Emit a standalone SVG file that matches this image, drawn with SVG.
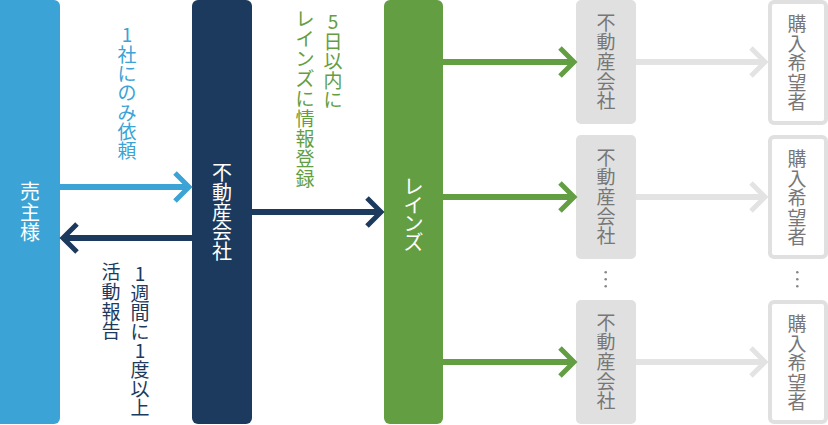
<svg xmlns="http://www.w3.org/2000/svg" width="828" height="425" viewBox="0 0 828 425">
<style>
text{font-family:"Noto Sans CJK JP","Noto Sans",sans-serif;text-anchor:middle}
.w{fill:#fff;font-size:20px}
.lb{fill:#3ba3d5;font-size:19px}
.ln{fill:#1c3a5e;font-size:19px}
.lg{fill:#639e43;font-size:19px}
.gt{fill:#777;font-size:19px}
.ch{fill:none;stroke-width:5;stroke-linejoin:miter;stroke-linecap:butt}
.ln6{stroke-width:6}
.dot{fill:#888}
</style>
<rect width="828" height="425" fill="#fff"/>
<g id="seller">
<rect x="-8" y="0" width="68" height="424" rx="6" fill="#3ba3d5"/>
<text class="w" x="30 30 30" y="199 219.5 240">売主様</text>
</g>
<g id="realtor">
<rect x="192" y="0" width="60" height="424" rx="6" fill="#1c3a5e"/>
<text class="w" x="222 222 222 222 222" y="180 199.8 219.6 239.4 259.2">不動産会社</text>
</g>
<g id="reins">
<rect x="384" y="0" width="59" height="424" rx="6" fill="#639e43"/>
<text class="w" x="413.5 413.5 413.5 413.5" y="194 212.5 231 249.5">レインズ</text>
</g>
<g id="agent1">
<rect x="576" y="0" width="60" height="124" rx="5" fill="#e0e0e0"/>
<text class="gt" x="606 606 606 606 606" y="29.5 49.2 68.9 88.6 108.3">不動産会社</text>
</g>
<g id="agent2">
<rect x="576" y="135" width="60" height="124" rx="5" fill="#e0e0e0"/>
<text class="gt" x="606 606 606 606 606" y="164.5 184.2 203.9 223.6 243.3">不動産会社</text>
</g>
<g id="agent3">
<rect x="576" y="300" width="60" height="124" rx="5" fill="#e0e0e0"/>
<text class="gt" x="606 606 606 606 606" y="329.5 349.2 368.9 388.6 408.3">不動産会社</text>
</g>
<g id="buyer1">
<rect x="770" y="2" width="56" height="121" rx="4" fill="#fff" stroke="#e0e0e0" stroke-width="4"/>
<text class="gt" x="797 797 797 797 797" y="31 50.5 70 89.5 109">購入希望者</text>
</g>
<g id="buyer2">
<rect x="770" y="137" width="56" height="120" rx="4" fill="#fff" stroke="#e0e0e0" stroke-width="4"/>
<text class="gt" x="797 797 797 797 797" y="166 185.5 205 224.5 244">購入希望者</text>
</g>
<g id="buyer3">
<rect x="770" y="302" width="56" height="120" rx="4" fill="#fff" stroke="#e0e0e0" stroke-width="4"/>
<text class="gt" x="797 797 797 797 797" y="331 350.5 370 389.5 409">購入希望者</text>
</g>
<g id="dots">
<circle class="dot" cx="605.7" cy="272.3" r="1.3"/>
<circle class="dot" cx="605.7" cy="279.3" r="1.3"/>
<circle class="dot" cx="605.7" cy="286.3" r="1.3"/>
<circle class="dot" cx="797.3" cy="272.3" r="1.3"/>
<circle class="dot" cx="797.3" cy="279.3" r="1.3"/>
<circle class="dot" cx="797.3" cy="286.3" r="1.3"/>
</g>
<g id="connectors">
<line x1="60" y1="187" x2="187" y2="187" stroke="#3ba3d5" stroke-width="6"/>
<polyline class="ch" stroke="#3ba3d5" points="175,173 189,187 175,201"/>
<line x1="192" y1="238" x2="65" y2="238" stroke="#1c3a5e" stroke-width="6"/>
<polyline class="ch" stroke="#1c3a5e" points="77,224 63,238 77,252"/>
<line x1="252" y1="212" x2="379" y2="212" stroke="#1c3a5e" stroke-width="6"/>
<polyline class="ch" stroke="#1c3a5e" points="367,198 381,212 367,226"/>
<line x1="443" y1="62" x2="572" y2="62" stroke="#639e43" stroke-width="6"/>
<polyline class="ch" stroke="#639e43" points="560,48 574,62 560,76"/>
<line x1="443" y1="197" x2="572" y2="197" stroke="#639e43" stroke-width="6"/>
<polyline class="ch" stroke="#639e43" points="560,183 574,197 560,211"/>
<line x1="443" y1="362" x2="572" y2="362" stroke="#639e43" stroke-width="6"/>
<polyline class="ch" stroke="#639e43" points="560,348 574,362 560,376"/>
<line x1="636" y1="62" x2="762" y2="62" stroke="#e3e3e3" stroke-width="6"/>
<polyline class="ch" stroke="#e3e3e3" points="751,48 765,62 751,76"/>
<line x1="636" y1="197" x2="762" y2="197" stroke="#e3e3e3" stroke-width="6"/>
<polyline class="ch" stroke="#e3e3e3" points="751,183 765,197 751,211"/>
<line x1="636" y1="362" x2="762" y2="362" stroke="#e3e3e3" stroke-width="6"/>
<polyline class="ch" stroke="#e3e3e3" points="751,348 765,362 751,376"/>
</g>
<g id="labels">
<text class="lb" x="127 127 127 127 127 127 127" y="42 62 81.2 100.4 119.6 138.8 158">1社にのみ依頼</text>
<text class="ln" x="140 140 140 140 140 140 140 140" y="281 300.5 319.5 338.5 357.5 376.5 395.5 414.5">1週間に1度以上</text>
<text class="ln" x="111 111 111 111" y="279 298.8 318.6 338.4">活動報告</text>
<text class="lg" x="333 333 333 333 333" y="29 48.5 68 87.5 107">5日以内に</text>
<text class="lg" x="305 305 305 305 305 305 305 305 305" y="26 46 66 86 106 126 146 166 186">レインズに情報登録</text>
</g>
</svg>
